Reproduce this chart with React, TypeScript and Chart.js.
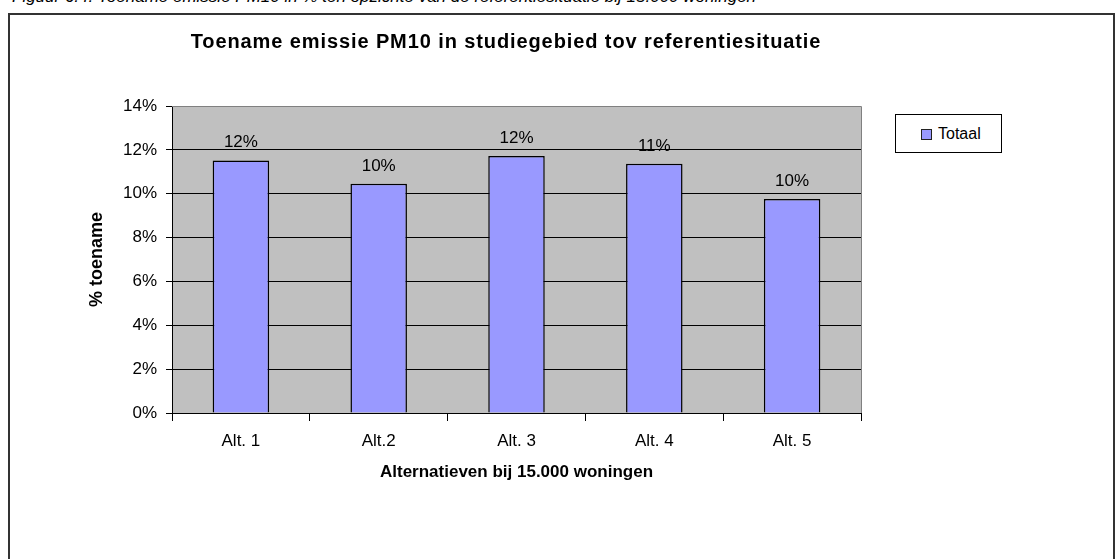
import React, { useEffect, useRef } from "react";
import { Chart, registerables } from "chart.js";

Chart.register(...registerables);

const categories = ["Alt. 1", "Alt.2", "Alt. 3", "Alt. 4", "Alt. 5"];
const totaal = [11.52, 10.45, 11.72, 11.37, 9.76];
const seriesName = "Totaal";
const chartTitle = "Toename emissie PM10 in studiegebied tov referentiesituatie";
const yTitle = "% toename";
const xTitle = "Alternatieven bij 15.000 woningen";
const captionText = "Figuur 6.4: Toename emissie PM10 in % ten opzichte van de referentiesituatie bij 15.000 woningen";

const FONT = "Arial, 'Liberation Sans', Helvetica, sans-serif";

export default function App() {
  const ref = useRef<HTMLCanvasElement | null>(null);

  useEffect(() => {
    document.body.style.margin = "0";
    const canvas = ref.current;
    if (!canvas) return;

    const plotBg = {
      id: "plotBg",
      beforeDraw(chart: any) {
        const { ctx, chartArea: a } = chart;
        ctx.save();
        ctx.fillStyle = "#C0C0C0";
        ctx.fillRect(a.left, a.top, a.right - a.left, a.bottom - a.top);
        ctx.restore();
      },
      afterDraw(chart: any) {
        const { ctx, chartArea: a } = chart;
        ctx.save();
        ctx.strokeStyle = "#808080";
        ctx.lineWidth = 1;
        ctx.beginPath();
        ctx.moveTo(a.left, Math.round(a.top) + 0.5);
        ctx.lineTo(Math.round(a.right) + 0.5, Math.round(a.top) + 0.5);
        ctx.lineTo(Math.round(a.right) + 0.5, a.bottom);
        ctx.stroke();
        ctx.restore();
      },
    };

    const titlePlugin = {
      id: "fixedTitle",
      afterDraw(chart: any) {
        const { ctx } = chart;
        ctx.save();
        ctx.font = `bold 20px ${FONT}`;
        try {
          (ctx as any).letterSpacing = "0.9px";
        } catch (e) {}
        ctx.fillStyle = "#000";
        ctx.textAlign = "center";
        ctx.textBaseline = "alphabetic";
        ctx.fillText(chartTitle, 506, 48);
        ctx.restore();
      },
    };

    const dataLabels = {
      id: "dataLabels",
      afterDatasetsDraw(chart: any) {
        const { ctx } = chart;
        const meta = chart.getDatasetMeta(0);
        ctx.save();
        ctx.font = `17px ${FONT}`;
        ctx.fillStyle = "#000";
        ctx.textAlign = "center";
        ctx.textBaseline = "alphabetic";
        meta.data.forEach((bar: any, i: number) => {
          const v = chart.data.datasets[0].data[i] as number;
          ctx.fillText(`${Math.round(v)}%`, bar.x, bar.y - 13);
        });
        ctx.restore();
      },
    };

    const chart = new Chart(canvas, {
      type: "bar",
      data: {
        labels: categories,
        datasets: [
          {
            label: seriesName,
            data: totaal,
            backgroundColor: "#9999FF",
            borderColor: "#000000",
            borderWidth: 1.5,
            barPercentage: 0.41,
            categoryPercentage: 1,
          },
        ],
      },
      options: {
        animation: false,
        responsive: false,
        maintainAspectRatio: false,
        layout: { padding: { left: 78, right: 254, top: 106, bottom: 66 } },
        plugins: {
          legend: { display: false },
          title: { display: false },
          tooltip: { enabled: false },
        },
        scales: {
          x: {
            afterFit(scale: any) {
              scale.height = 80;
            },
            grid: {
              offset: true,
              drawOnChartArea: false,
              tickLength: 8,
              color: "#000",
            },
            border: { color: "#000", width: 1 },
            ticks: {
              color: "#000",
              font: { family: FONT, size: 17 },
              padding: 10,
            },
            title: {
              display: true,
              text: xTitle,
              color: "#000",
              font: { family: FONT, size: 17, weight: "bold" },
              padding: { top: 10, bottom: 10 },
            },
          },
          y: {
            min: 0,
            max: 14,
            afterFit(scale: any) {
              scale.width = 94;
            },
            grid: {
              color: (c: any) => (c.tick && c.tick.value === 14 ? "#808080" : "#000"),
              tickLength: 6,
              tickColor: "#000",
            },
            border: { color: "#000", width: 1 },
            ticks: {
              stepSize: 2,
              color: "#000",
              font: { family: FONT, size: 17 },
              padding: 9,
              callback: (v: any) => `${v}%`,
            },
            title: {
              display: true,
              text: yTitle,
              color: "#000",
              font: { family: FONT, size: 18, weight: "bold" },
              padding: { top: 8, bottom: 8 },
            },
          },
        },
      },
      plugins: [plotBg, titlePlugin, dataLabels],
    });

    return () => chart.destroy();
  }, []);

  return (
    <div style={{ position: "relative", width: 1115, height: 559, overflow: "hidden", background: "#fff" }}>
      <div
        style={{
          position: "absolute",
          left: 12,
          top: -13,
          fontFamily: FONT,
          fontStyle: "italic",
          fontSize: 17,
          whiteSpace: "nowrap",
          color: "#000",
        }}
      >
        {captionText}
      </div>
      <div
        style={{
          position: "absolute",
          left: 8,
          top: 13,
          width: 1103,
          height: 600,
          border: "2px solid #333",
          borderBottom: "none",
        }}
      />
      <canvas ref={ref} width={1115} height={559} style={{ position: "absolute", left: 0, top: 0 }} />
      <div
        style={{
          position: "absolute",
          left: 895,
          top: 114,
          width: 105,
          height: 37,
          border: "1px solid #000",
          background: "#fff",
          fontFamily: FONT,
          fontSize: 16,
          color: "#000",
        }}
      >
        <span
          style={{
            position: "absolute",
            left: 25,
            top: 14,
            width: 9,
            height: 9,
            background: "#9999FF",
            border: "1.5px solid #222",
          }}
        />
        <span style={{ position: "absolute", left: 42, top: 9, lineHeight: "19px" }}>{seriesName}</span>
      </div>
    </div>
  );
}
